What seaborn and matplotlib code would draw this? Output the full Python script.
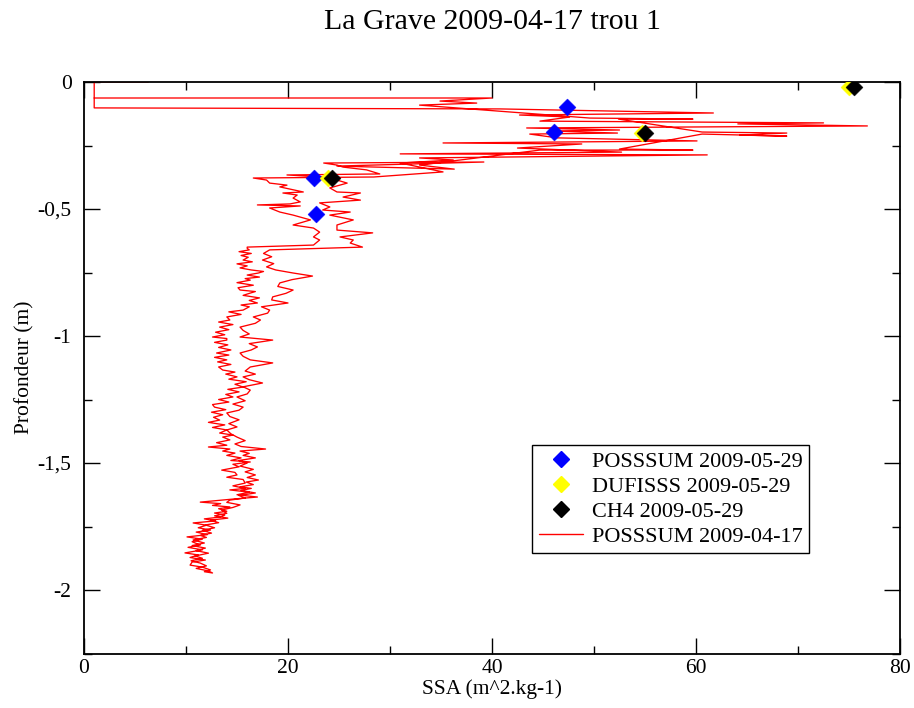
import numpy as np
import pandas as pd
import matplotlib
matplotlib.use("Agg")
import matplotlib.pyplot as plt
from matplotlib.lines import Line2D
import seaborn as sns

# ---------------- data ----------------
title = "La Grave 2009-04-17 trou 1"
xlabel = "SSA (m^2.kg-1)"
ylabel = "Profondeur (m)"

# POSSSUM 2009-04-17 profile (descent then ascent, drawn as one line)
ssa_descent = [6.3, 1.0, 1.0, 40.8, 61.7, 42.7, 47.6, 44.7, 72.5, 64.1, 76.8, 43.4, 52.5, 45.7,
               52.3, 43.7, 46.4, 60.1, 35.2, 48.8, 42.5, 52.7, 31.0, 61.1, 32.9, 36.2, 31.0, 35.2,
               28.4, 16.6,
               17.9, 18.2, 19.9, 19.2, 21.5, 19.5, 20.9, 20.5, 21.2, 20.2, 17.0, 21.2, 18.2, 19.2,
               20.5, 22.2, 20.5, 22.5, 23.1, 22.5, 23.1, 22.5, 16.0,
               16.0, 16.2, 15.2, 16.4, 15.4, 16.1, 15.6, 16.5, 15.0, 16.0, 15.3, 16.4, 17.6, 17.1,
               16.0, 17.2, 15.8, 16.3, 15.0, 16.6, 15.1, 15.3, 16.8, 16.3, 15.6, 17.2, 16.2, 17.0,
               15.4, 16.2, 15.6, 14.2, 15.4, 14.0, 14.3, 13.2, 14.6, 13.3, 14.2, 12.9, 13.8, 12.6,
               14.0, 14.0, 12.8, 14.1, 13.2, 14.4, 13.0, 14.2, 12.8, 14.0, 13.1, 14.4, 13.2, 13.6,
               14.8, 13.9, 15.0, 14.2, 15.9, 14.8, 15.6, 14.1, 15.2, 13.9, 14.6, 13.2, 14.2, 12.6,
               12.8, 13.9, 12.5, 13.6, 12.7, 13.3, 12.2, 13.8, 12.6, 14.0, 13.3, 14.6, 13.6, 14.3,
               13.0, 14.0, 12.2, 14.3, 13.6, 14.8, 14.0, 15.4, 14.4, 16.3, 14.6, 15.2, 13.5, 14.8,
               15.0, 14.0, 15.6, 15.8, 14.6, 15.8, 14.3, 16.2, 15.0, 17.0, 14.6, 11.4, 13.4, 12.6,
               14.3, 13.2, 14.0, 12.8, 13.8, 13.3, 11.8, 12.9, 10.7, 12.0, 11.2, 12.4, 11.0, 12.1,
               10.1, 11.6, 10.6, 11.4, 10.2, 11.6, 9.9, 11.2, 10.4, 11.9, 10.6, 10.4, 11.6, 12.4,
               11.8, 12.6]
depth_descent = [0.000, 0.000, -0.102, -0.106, -0.122, -0.130, -0.138, -0.154, -0.161, -0.165,
                 -0.173, -0.181, -0.189, -0.193, -0.201, -0.205, -0.220, -0.232, -0.240, -0.244,
                 -0.260, -0.276, -0.283, -0.287, -0.299, -0.307, -0.319, -0.354, -0.374, -0.378,
                 -0.386, -0.398, -0.406, -0.413, -0.433, -0.437, -0.445, -0.457, -0.472, -0.480,
                 -0.484, -0.488, -0.496, -0.512, -0.524, -0.543, -0.563, -0.575, -0.591, -0.610,
                 -0.622, -0.642, -0.650,
                 -0.655, -0.661, -0.668, -0.675, -0.683, -0.690, -0.701, -0.708, -0.716, -0.724,
                 -0.732, -0.740, -0.746, -0.752, -0.760, -0.768, -0.774, -0.780, -0.790, -0.800,
                 -0.810, -0.819, -0.825, -0.831, -0.840, -0.850, -0.860, -0.870, -0.878, -0.885,
                 -0.898, -0.905, -0.915, -0.925, -0.937, -0.945, -0.955, -0.965, -0.975, -0.985,
                 -0.995, -1.004, -1.010, -1.016, -1.025, -1.035, -1.045, -1.055, -1.067, -1.075,
                 -1.084, -1.094, -1.102, -1.112, -1.122, -1.134, -1.142, -1.150, -1.161, -1.170,
                 -1.180, -1.190, -1.201, -1.210, -1.220, -1.230, -1.240, -1.250, -1.260, -1.270,
                 -1.280, -1.290, -1.300, -1.310, -1.320, -1.331, -1.340, -1.350, -1.360, -1.370,
                 -1.382, -1.390, -1.398, -1.409, -1.420, -1.430, -1.437, -1.445, -1.453, -1.461,
                 -1.470, -1.480, -1.490, -1.496, -1.505, -1.515, -1.528, -1.537, -1.547, -1.556,
                 -1.565, -1.579, -1.590, -1.600, -1.606, -1.615, -1.625, -1.634, -1.642, -1.654,
                 -1.660, -1.667, -1.673, -1.680, -1.690, -1.697, -1.705, -1.713, -1.720, -1.728,
                 -1.736, -1.745, -1.755, -1.764, -1.772, -1.782, -1.791, -1.800, -1.810, -1.823,
                 -1.832, -1.842, -1.854, -1.862, -1.872, -1.882, -1.890, -1.902, -1.910, -1.921,
                 -1.928, -1.933]

ssa_ascent = [12.2, 11.0, 12.0, 11.4, 10.5, 11.6, 10.9, 12.2, 11.0, 11.9, 10.6, 11.8, 10.7, 12.0,
              11.4, 12.5, 11.6, 12.8, 11.9, 13.2, 12.4, 14.1, 12.8, 14.0, 13.5, 14.6, 15.3, 14.0,
              14.3, 15.8, 15.2, 16.8, 15.4, 16.4, 15.3, 16.6, 15.9, 17.1, 16.0, 16.8, 15.8, 16.6,
              15.3, 16.0, 15.2, 16.8, 15.6, 16.2, 15.3, 17.8, 15.4, 14.8, 15.8, 15.0, 14.4, 14.0,
              15.0, 14.2, 15.2, 14.3, 14.0, 15.2, 15.6, 14.6, 15.8, 15.0, 16.0, 16.3, 15.6, 17.5,
              16.2, 15.6, 16.8, 15.8, 16.3, 18.5, 16.3, 15.6, 15.3, 16.4, 17.0, 16.2, 18.5, 15.3,
              16.2, 15.6, 15.3, 16.8, 17.3, 16.6, 18.0, 18.2, 17.4, 20.0, 18.4, 18.5, 19.8, 20.5,
              19.0, 19.2, 20.4, 22.4, 20.5, 18.8, 17.9, 18.6, 17.5, 18.4, 17.6, 18.2,
              27.3, 26.1, 26.4, 25.1, 28.3, 24.8, 24.8, 26.4, 24.1,
              26.1, 23.4, 24.1, 23.1, 27.1, 25.4, 27.1, 24.8, 24.1, 25.8, 24.8, 23.4, 19.9, 29.0,
              27.7, 25.4, 24.8, 23.5, 39.2, 24.8, 36.3, 32.9, 44.7, 59.7, 52.5, 60.6, 68.9, 64.3,
              68.9, 60.6, 52.4, 59.7, 49.6, 32.9, 38.5, 34.9, 40.0, 1.0]
depth_ascent = [-1.925, -1.915, -1.905, -1.894, -1.885, -1.875, -1.866, -1.855, -1.845, -1.835,
                -1.825, -1.815, -1.803, -1.793, -1.785, -1.776, -1.765, -1.755, -1.744, -1.735,
                -1.725, -1.717, -1.708, -1.698, -1.685, -1.675, -1.665, -1.655, -1.646, -1.638,
                -1.628, -1.618, -1.608, -1.600, -1.594, -1.585, -1.575, -1.567, -1.557, -1.547,
                -1.535, -1.525, -1.512, -1.500, -1.490, -1.480, -1.470, -1.462, -1.453, -1.445,
                -1.435, -1.425, -1.412, -1.398, -1.385, -1.370, -1.358, -1.345, -1.330, -1.317,
                -1.303, -1.292, -1.280, -1.268, -1.255, -1.240, -1.228, -1.213, -1.200, -1.185,
                -1.172, -1.161, -1.150, -1.138, -1.122, -1.106, -1.094, -1.080, -1.067, -1.055,
                -1.043, -1.030, -1.016, -1.004, -0.992, -0.978, -0.965, -0.950, -0.937, -0.925,
                -0.910, -0.898, -0.885, -0.870, -0.858, -0.846, -0.832, -0.819, -0.805, -0.791,
                -0.778, -0.764, -0.752, -0.740, -0.728, -0.715, -0.701, -0.688, -0.675, -0.661,
                -0.650, -0.634, -0.622, -0.610, -0.594, -0.583, -0.563, -0.543, -0.524,
                -0.512, -0.504, -0.492, -0.476, -0.465, -0.453, -0.437, -0.433, -0.417, -0.398,
                -0.386, -0.374, -0.366, -0.362, -0.346, -0.335, -0.327, -0.319, -0.315, -0.331,
                -0.343, -0.327, -0.268, -0.268, -0.264, -0.205, -0.213, -0.209, -0.201, -0.197,
                -0.146, -0.146, -0.142, -0.091, -0.083, -0.075, -0.063, -0.063]

# point measurements 2009-05-29
possum_ssa = [47.4, 46.1, 22.5, 22.7]
possum_depth = [-0.098, -0.197, -0.378, -0.520]
dufisss_ssa = [75.0, 54.7, 23.9]
dufisss_depth = [-0.020, -0.200, -0.378]
ch4_ssa = [75.5, 55.0, 24.3]
ch4_depth = [-0.020, -0.200, -0.378]

series_labels = ["POSSSUM 2009-05-29", "DUFISSS 2009-05-29", "CH4 2009-05-29", "POSSSUM 2009-04-17"]
series_colors = ["#0000ff", "#ffff00", "#000000", "#ff0000"]

x_ticks = [0, 20, 40, 60, 80]
x_ticklabels = ["0", "20", "40", "60", "80"]
y_ticks = [0, -0.5, -1, -1.5, -2]
y_ticklabels = ["0", "-0,5", "-1", "-1,5", "-2"]

# ---------------- plot ----------------
sns.set_style("ticks")
plt.rcParams["font.family"] = ["Liberation Serif", "DejaVu Serif"]
plt.rcParams["axes.unicode_minus"] = False
plt.rcParams["text.color"] = "black"
plt.rcParams["axes.labelcolor"] = "black"
plt.rcParams["xtick.color"] = "black"
plt.rcParams["ytick.color"] = "black"

fig = plt.figure(figsize=(9.14, 7.08), dpi=100)
ax = fig.add_axes([84 / 914, 1 - 653.5 / 708, 816 / 914, 571.5 / 708])

line_df = pd.DataFrame({
    "ssa": ssa_descent + ssa_ascent,
    "depth": depth_descent + depth_ascent,
})
sns.lineplot(data=line_df, x="ssa", y="depth", sort=False, estimator=None,
             color=series_colors[3], linewidth=0.95, ax=ax, legend=False)

pts = [(possum_ssa, possum_depth), (dufisss_ssa, dufisss_depth), (ch4_ssa, ch4_depth)]
for (xs, ys), c in zip(pts, series_colors[:3]):
    sns.scatterplot(x=xs, y=ys, marker="D", s=75, color=c, edgecolor=c,
                    linewidth=0.3, ax=ax, legend=False, zorder=3)

ax.set_xlim(0, 80)
ax.set_ylim(-2.25, 0)
ax.set_xticks(x_ticks)
ax.set_xticklabels(x_ticklabels)
ax.set_yticks(y_ticks)
ax.set_yticklabels(y_ticklabels)
ax.set_xticks([10, 30, 50, 70], minor=True)
ax.set_yticks([-0.25, -0.75, -1.25, -1.75, -2.25], minor=True)
ax.tick_params(which="both", direction="in", top=True, right=True, labelsize=15.5,
               colors="black", labelcolor="black", width=1.0)
ax.tick_params(axis="x", which="major", length=11.5, pad=4)
ax.tick_params(axis="y", which="major", length=11.5, pad=9)
ax.tick_params(which="minor", length=5.8)
for sp in ax.spines.values():
    sp.set_linewidth(1.3)
    sp.set_color("black")

ax.set_xlabel(xlabel, fontsize=15.5, labelpad=1, color="black")
ax.set_ylabel(ylabel, fontsize=15.5, labelpad=2, color="black")
ax.set_title(title, fontsize=21.5, pad=38, color="black")

handles = [
    Line2D([], [], linestyle="none", marker="D", markersize=8, color=series_colors[0]),
    Line2D([], [], linestyle="none", marker="D", markersize=8, color=series_colors[1]),
    Line2D([], [], linestyle="none", marker="D", markersize=8, color=series_colors[2]),
    Line2D([], [], color=series_colors[3], linewidth=1.0),
]
leg = ax.legend(handles, series_labels, loc="lower left", bbox_to_anchor=(0.549, 0.175),
                fontsize=16, frameon=True, fancybox=False, framealpha=1,
                edgecolor="black", handlelength=2.0, handletextpad=0.4,
                borderpad=0.3, labelspacing=0.2, borderaxespad=0)
leg.get_frame().set_linewidth(1.0)
for t in leg.get_texts():
    t.set_color("black")

fig.savefig("out.png", dpi=100)
